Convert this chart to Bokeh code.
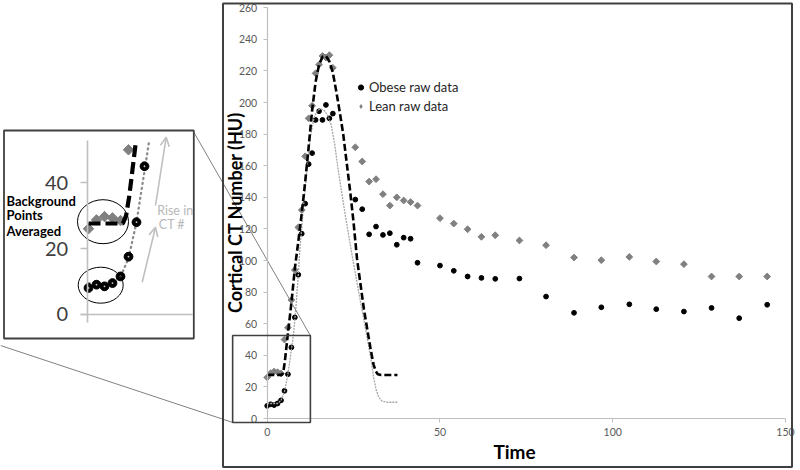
import numpy as np
from bokeh.plotting import figure
from bokeh.models import (Range1d, LinearAxis, FixedTicker, Label, Legend, LegendItem,
                          ColumnDataSource, Arrow, OpenHead, BoxAnnotation)
from bokeh.embed import file_html
from bokeh.resources import INLINE

# ---------------- data ----------------
time_s = [0, 1, 2, 3, 4, 5, 6, 7, 8, 9, 10, 11, 12, 13, 14, 15, 16, 17, 18, 19,
          25.5, 27.5, 29.5, 31.5, 33.5, 35.5, 37.5, 39.5, 41.5, 43.5,
          50, 54, 58, 62, 66, 73, 80.7, 88.8, 96.7, 104.8, 112.6, 120.6, 128.6, 136.6, 144.7]
obese_hu = [8, 9, 8.5, 9.5, 11.5, 17.5, 28, 45, 64, 91, 117, 136, 161, 168, 189, 194.5, 189, 198.5, 190, 193,
            138.6, 132.5, 116.6, 121.5, 116.2, 117.3, 110, 114.5, 113.8, 98.6,
            96.8, 93.5, 89.9, 89, 88.4, 88.6, 77.2, 66.9, 70.4, 72.3, 69.2, 67.7, 70, 63.5, 72]
lean_hu = [26, 28.7, 29.7, 29.3, 28.5, 50, 57.5, 75, 94, 121, 132, 166, 190, 198, 218.5, 224, 229.5, 228.5, 230, 222,
           171.7, 162.7, 150, 151.5, 142, 134.8, 140, 138, 137, 134.8,
           126.8, 123.4, 119.8, 115, 116, 112.7, 109.7, 101.9, 100.2, 102.3, 99.4, 97.7, 89.9, 89.9, 89.9]

lean_fit_t = [0, 4.3, 4.7, 5.1, 5.5, 5.9, 7, 8, 9, 10, 11, 12, 13, 14, 15, 16, 17, 18, 19, 20,
              21, 22, 23, 24, 25, 26, 27, 28, 29, 30, 30.8, 31.4, 32, 33, 37.7]
lean_fit_hu = [27.6, 27.6, 30, 36, 44, 52, 73, 95, 112, 130, 150, 172, 195, 213, 224, 229, 229.5, 226, 219, 207,
               194, 180, 162, 144, 124, 101, 85, 69, 56, 43, 34, 30, 28, 27.5, 27.5]

obese_fit_t = [0, 3, 4, 5, 6, 6.9, 7.6, 8.3, 8.9, 9.5, 10.5, 11.5, 12.5, 13.5, 14.5, 15.5, 16.5,
               17.5, 18.5, 19.5, 20.5, 21.5, 22.5, 23.5, 25, 27, 28.9, 30, 30.8, 31.5, 32.3, 33.2, 34.7, 37.7]
obese_fit_hu = [9.5, 9.5, 11.4, 17, 28, 42, 53, 70, 88, 108, 134, 158, 178, 190, 195, 196, 195,
                192, 186, 174, 158, 144, 130, 117, 98, 74, 51.5, 38, 26, 18.5, 13.5, 11, 10.3, 10.3]

main_x_ticks = [0, 50, 100, 150]
main_y_ticks = list(range(0, 261, 20))
inset_y_ticks = [0, 20, 40]

# ---------------- layout (canvas pixels) ----------------
W, H = 800, 470
X0, XS = 266.7, (785.0 - 266.7) / 150
Y0, YS = 418.0, (418.0 - 7.3) / 260
IX0, IXS = 88.0, 8.0
IY0, IYS = 313.8, 3.29


def mx(c):
    return (c - X0) / XS


def my(c):
    return (Y0 - c) / YS


def ix(c):
    return (c - IX0) / IXS


def iy(c):
    return (IY0 - c) / IYS


FONT = "Lato"
GRAY_AX = "#bfbfbf"
TXT = "#595959"

p = figure(width=W, height=H, output_backend="svg", toolbar_location=None,
           x_axis_location=None, y_axis_location=None, min_border=0,
           x_range=Range1d(mx(0), mx(W)), y_range=Range1d(my(H), my(0)))
p.extra_x_ranges = {"ix": Range1d(ix(0), ix(W))}
p.extra_y_ranges = {"iy": Range1d(iy(H), iy(0))}
p.outline_line_color = None
p.background_fill_color = "white"
p.border_fill_color = "white"
p.xgrid.visible = False
p.ygrid.visible = False

# ---------------- main axes ----------------
xa = LinearAxis(fixed_location=0, bounds=(0, 150), ticker=FixedTicker(ticks=main_x_ticks),
                axis_line_color=GRAY_AX, axis_line_width=1.2,
                major_tick_line_color=GRAY_AX, major_tick_out=4, major_tick_in=0,
                minor_tick_out=0, minor_tick_in=0,
                major_label_text_font=FONT, major_label_text_font_size="10.5px",
                major_label_text_color=TXT, major_label_standoff=5)
p.add_layout(xa, "below")
ya = LinearAxis(fixed_location=0, bounds=(0, 260), ticker=FixedTicker(ticks=main_y_ticks),
                axis_line_color=GRAY_AX, axis_line_width=1.2,
                major_tick_line_color=GRAY_AX, major_tick_out=4, major_tick_in=0,
                minor_tick_out=0, minor_tick_in=0,
                major_label_text_font=FONT, major_label_text_font_size="10.5px",
                major_label_text_color=TXT, major_label_standoff=6)
p.add_layout(ya, "left")

# ---------------- inset axes ----------------
INSET_TOP = iy(140)
INSET_RIGHT = ix(192)
iya = LinearAxis(x_range_name="ix", y_range_name="iy", fixed_location=ix(86.7),
                 bounds=(iy(322), INSET_TOP), ticker=FixedTicker(ticks=inset_y_ticks),
                 axis_line_color=GRAY_AX, axis_line_width=1.6,
                 major_tick_line_color=GRAY_AX, major_tick_line_width=1.6,
                 major_tick_out=7, major_tick_in=0, minor_tick_out=0, minor_tick_in=0,
                 major_label_text_font=FONT, major_label_text_font_size="20px",
                 major_label_text_color="#404040", major_label_standoff=12)
p.add_layout(iya, "left")
ixa = LinearAxis(x_range_name="ix", y_range_name="iy", fixed_location=0,
                 bounds=(ix(80), INSET_RIGHT), ticker=FixedTicker(ticks=[]),
                 axis_line_color=GRAY_AX, axis_line_width=1.6,
                 major_tick_out=0, major_tick_in=0, minor_tick_out=0, minor_tick_in=0,
                 major_label_text_font_size="0px")
p.add_layout(ixa, "below")

# ---------------- main glyphs ----------------
src = ColumnDataSource(dict(t=time_s, obese=obese_hu, lean=lean_hu))
p.scatter("t", "lean", source=src, marker="square", angle=np.pi / 4, size=4.8,
          fill_color="#808080", line_color="#808080")
obese_r = p.scatter("t", "obese", source=src, marker="circle", size=4.8,
                    fill_color="black", line_color="black")
p.line(obese_fit_t, obese_fit_hu, line_color="#a6a6a6", line_width=1.3, line_dash="2 1")
p.line(lean_fit_t, lean_fit_hu, line_color="black", line_width=2.6, line_dash="7 3")

# legend swatch for the lean series (zero-size in the plot, drawn only in the legend)
lean_leg = p.scatter("t", "lean", source=src, marker="diamond", size=0,
                     fill_color="#808080", line_color=None)


# ---------------- inset glyphs ----------------
def keep(xs, ys):
    pairs = [(a, b) for a, b in zip(xs, ys) if b <= INSET_TOP + 0.3 and a <= INSET_RIGHT]
    return [a for a, _ in pairs], [b for _, b in pairs]


ilx, ily = keep(time_s, lean_hu)
iox, ioy = keep(time_s, obese_hu)
ilfx, ilfy = keep(lean_fit_t, lean_fit_hu)
iofx, iofy = keep(obese_fit_t, obese_fit_hu)

p.line(iofx, iofy, x_range_name="ix", y_range_name="iy", line_color="#8c8c8c",
       line_width=2.3, line_dash="1 4", line_cap="round")
p.scatter(ilx, ily, x_range_name="ix", y_range_name="iy", marker="square", angle=np.pi / 4,
          size=7.4, fill_color="#808080", line_color="#808080")
p.line(ilfx, ilfy, x_range_name="ix", y_range_name="iy", line_color="black",
       line_width=4.2, line_dash="12 5")
p.scatter(iox, ioy, x_range_name="ix", y_range_name="iy", marker="circle", size=8.8,
          fill_color="black", line_color="black")
p.scatter(iox, ioy, x_range_name="ix", y_range_name="iy", marker="circle", size=1.8,
          fill_color="#c8c8c8", line_color=None)

# ellipses around the averaged background points
p.ellipse(x=[ix(102.5), ix(100.2)], y=[iy(221.2), iy(284.7)], width=[51, 45], height=[44, 36],
          width_units="screen", height_units="screen", x_range_name="ix", y_range_name="iy",
          fill_color=None, line_color="black", line_width=1)

# arrows "Rise in CT #"
for (x0, y0, x1, y1) in [(141.7, 281.7, 155.0, 226.7), (155.0, 205.0, 165.7, 136.7)]:
    p.add_layout(Arrow(x_start=ix(x0), y_start=iy(y0), x_end=ix(x1), y_end=iy(y1),
                       x_range_name="ix", y_range_name="iy",
                       line_color="#c0c0c0", line_width=1.6,
                       end=OpenHead(size=9, line_color="#c0c0c0", line_width=1.6)))

# ---------------- boxes and connectors ----------------
p.add_layout(BoxAnnotation(left=ix(3.5), right=ix(193.3), top=iy(130), bottom=iy(338),
                           x_range_name="ix", y_range_name="iy",
                           fill_color=None, fill_alpha=0, line_color="#404040", line_alpha=1,
                           line_width=1.8))
p.add_layout(BoxAnnotation(left=-10, right=12.5, top=52.5, bottom=-2.5,
                           fill_color=None, fill_alpha=0, line_color="#404040", line_alpha=1,
                           line_width=1.6))
p.add_layout(BoxAnnotation(left=mx(222.5), right=mx(791.5), top=my(3), bottom=my(466.5),
                           fill_color=None, fill_alpha=0, line_color="#404040", line_alpha=1,
                           line_width=2))
p.segment(x0=[mx(193.3), mx(0)], y0=[my(131.7), my(345)], x1=[12.5, -10], y1=[52.5, -2.5],
          line_color="#808080", line_width=1)

# ---------------- texts ----------------
p.add_layout(Label(x=mx(234), y=my(212), text="Cortical CT Number (HU)", angle=np.pi / 2,
                   text_align="center", text_baseline="middle", text_font=FONT,
                   text_font_style="bold", text_font_size="18px", text_color="black"))
p.add_layout(Label(x=mx(514), y=my(451), text="Time", text_align="center",
                   text_baseline="middle", text_font=FONT, text_font_style="bold",
                   text_font_size="19px", text_color="black"))
for txt, yy in [("Background", 200.0), ("Points", 214.5), ("Averaged", 230.0)]:
    p.add_layout(Label(x=ix(6), y=iy(yy), x_range_name="ix", y_range_name="iy", text=txt,
                       text_align="left", text_baseline="middle", text_font=FONT,
                       text_font_style="bold", text_font_size="13px", text_color="black"))
for txt, xx, yy in [("Rise in", 156.7, 210.0), ("CT #", 158.3, 224.3)]:
    p.add_layout(Label(x=ix(xx), y=iy(yy), x_range_name="ix", y_range_name="iy", text=txt,
                       text_align="left", text_baseline="middle", text_font=FONT,
                       text_font_size="12.5px", text_color="#b8b8b8"))

# ---------------- legend ----------------
legend = Legend(items=[LegendItem(label="Obese raw data", renderers=[obese_r]),
                       LegendItem(label="Lean raw data", renderers=[lean_leg])],
                location=(354, 356), padding=0, margin=0, spacing=3,
                glyph_width=13, glyph_height=14, label_height=14, label_standoff=2,
                label_text_font=FONT, label_text_font_size="13px", label_text_color="#262626",
                background_fill_alpha=0, border_line_color=None)
p.add_layout(legend)

open("out.html", "w").write(file_html(p, INLINE))
